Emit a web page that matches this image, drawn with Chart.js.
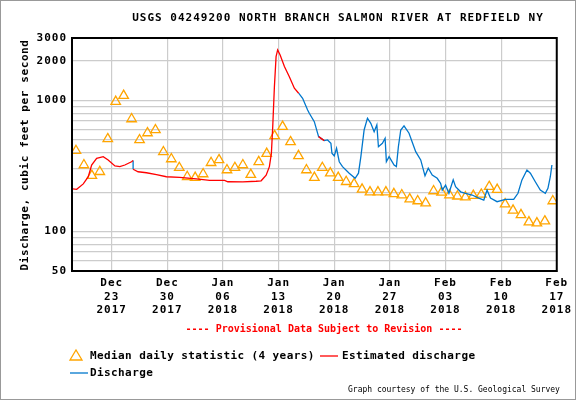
<!DOCTYPE html>
<html><head><meta charset="utf-8">
<script src="https://cdn.jsdelivr.net/npm/chart.js@4"></script>
<style>html,body{margin:0;padding:0;background:#fff}canvas{display:block}</style>
</head><body>
<canvas id="c" width="576" height="400"></canvas>
<script>
const titleText = "USGS 04249200 NORTH BRANCH SALMON RIVER AT REDFIELD NY";
const xTickPos = [5,12,19,26,33,40,47,54,61];
const xTickLabels = [["Dec","23","2017"],["Dec","30","2017"],["Jan","06","2018"],["Jan","13","2018"],["Jan","20","2018"],["Jan","27","2018"],["Feb","03","2018"],["Feb","10","2018"],["Feb","17","2018"]];
const yGrid = [50,60,70,80,90,100,200,300,400,500,600,700,800,900,1000,2000,3000];
const yLabeled = [50,100,1000,2000,3000];

const medianValues = [414,322,267,286,509,980,1089,723,500,565,596,405,358,307,262,258,275,335,352,295,307,322,272,340,393,537,632,483,378,295,258,307,279,258,240,231,210,200,200,200,194,190,177,171,165,204,199,190,186,183,188,192,220,209,162,145,134,118,116,120,171];

const estDays = [0.09,0.59,1.42,2.05,2.47,3.1,3.93,4.55,5.4,6.02,6.65,7.49,7.69,null,7.69,8.32,9.37,10.63,11.88,13.55,15.65,17.32,19.2,19.61,21.49,23.17,23.8,24.43,24.84,25.09,25.26,25.47,25.68,25.88,26.19,26.73,27.35,27.98,28.52,null,31.03,31.74];
const estValues = [212,210,231,262,322,362,373,352,317,313,322,341,348,null,299,286,281,272,262,259,252,246,246,240,239,242,244,269,313,395,632,1276,2163,2432,2228,1815,1520,1241,1137,null,530,494];

const disDays = [7.69,7.69,null,28.52,29.02,29.65,29.86,30.49,31.03,31.74,32.16,32.58,32.71,33.0,33.29,33.63,34.04,34.88,35.63,36.05,36.35,36.76,37.18,37.6,38.02,38.36,38.56,39.06,39.4,39.56,39.9,40.53,40.82,41.07,41.37,41.78,42.41,43.25,43.88,44.42,44.83,45.33,45.96,46.39,46.59,47.01,47.43,47.97,48.27,48.9,49.52,50.35,51.19,51.82,52.23,52.66,53.49,54.54,55.58,56.12,56.62,57.25,57.68,58.3,58.93,59.56,59.89,60.19,60.39];
const disValues = [348,299,null,1137,1040,847,800,690,530,494,500,472,396,378,432,341,313,279,255,279,373,596,733,670,578,651,444,472,515,341,373,322,313,444,596,640,563,407,352,266,304,270,255,233,207,226,196,248,220,201,196,190,180,174,207,180,169,176,176,196,248,295,279,240,207,196,214,262,322];

const FONT = "'DejaVu Sans Mono', monospace";
const pts = (xs, ys) => xs.map((x,i)=> x===null ? {x:null,y:null} : {x:x, y:ys[i]});
const medPts = medianValues.map((v,i)=>({x:i+0.5,y:v}));

const spacing = {
  id:'spacing',
  beforeDraw(ch){ ch.ctx.letterSpacing='1px'; }
};
const extras = {
  id:'extras',
  afterDraw(ch){
    const c = ch.ctx; c.save();
    const a = ch.chartArea;
    c.strokeStyle='#000'; c.lineWidth=2; c.strokeRect(a.left, a.top, a.right-a.left, a.bottom-a.top);
    c.strokeStyle='#999'; c.lineWidth=1; c.strokeRect(0.5,0.5,575,399);
    c.fillStyle='#000'; c.font="bold 11px "+FONT; c.textAlign='center'; c.textBaseline='middle';
    c.letterSpacing='1px';
    c.fillText(titleText, 338, 18);
    c.letterSpacing='0.6px';
    c.save(); c.translate(25,155); c.rotate(-Math.PI/2);
    c.fillText("Discharge, cubic feet per second",0,0); c.restore();
    c.letterSpacing='0px'; c.font="bold 10px "+FONT;
    c.fillStyle='#f00'; c.fillText("---- Provisional Data Subject to Revision ----", 324, 329);
    c.textAlign='left'; c.fillStyle='#000';
    c.font="bold 11px "+FONT; c.letterSpacing='0.4px';
    c.strokeStyle='#ffa500'; c.lineWidth=1.3;
    c.beginPath(); c.moveTo(70,360); c.lineTo(82,360); c.lineTo(76,350); c.closePath(); c.stroke();
    c.fillText("Median daily statistic (4 years)", 90, 356);
    c.strokeStyle='#f00'; c.beginPath(); c.moveTo(320,356); c.lineTo(338,356); c.stroke();
    c.fillText("Estimated discharge", 342, 356);
    c.strokeStyle='#0077cc'; c.beginPath(); c.moveTo(70,373); c.lineTo(88,373); c.stroke();
    c.fillText("Discharge", 90, 373);
    c.letterSpacing='0px';
    c.font="8px "+FONT; c.fillText("Graph courtesy of the U.S. Geological Survey", 348, 390);
    c.restore();
  }
};

new Chart(document.getElementById('c'), {
  type:'line',
  data:{datasets:[
    {label:'Estimated discharge', data:pts(estDays,estValues), borderColor:'#ff0000', borderWidth:1.3, pointRadius:0, spanGaps:false, tension:0},
    {label:'Discharge', data:pts(disDays,disValues), borderColor:'#0077cc', borderWidth:1.3, pointRadius:0, spanGaps:false, tension:0},
    {label:'Median', data:medPts, showLine:false, pointStyle:'triangle', pointRadius:5.5, borderColor:'#ffa500', backgroundColor:'rgba(0,0,0,0)', borderWidth:1.3}
  ]},
  options:{
    responsive:false, animation:false,
    layout:{padding:{left:0,right:18,top:38,bottom:0}},
    plugins:{legend:{display:false}, tooltip:{enabled:false}},
    scales:{
      x:{type:'linear', min:0, max:61,
        afterBuildTicks:(s)=>{s.ticks = xTickPos.map(v=>({value:v}));},
        afterFit:(s)=>{s.height=129;},
        ticks:{autoSkip:false, maxRotation:0, color:'#000', font:{family:FONT, weight:'bold', size:11}, padding:6,
          callback:(v)=>{const i=xTickPos.indexOf(v); return i>=0?xTickLabels[i]:'';}},
        grid:{color:'#cccccc', drawTicks:false, lineWidth:1.2},
        border:{color:'#000', width:2}
      },
      y:{type:'logarithmic', min:50, max:3000,
        afterBuildTicks:(s)=>{s.ticks = yGrid.map(v=>({value:v}));},
        afterFit:(s)=>{s.width=72;},
        ticks:{autoSkip:false, color:'#000', font:{family:FONT, weight:'bold', size:11}, padding:5,
          callback:(v)=> yLabeled.includes(v)? String(v) : ''},
        grid:{color:'#cccccc', drawTicks:false, lineWidth:1.2},
        border:{color:'#000', width:2}
      }
    }
  },
  plugins:[spacing, extras]
});
</script>
</body></html>
